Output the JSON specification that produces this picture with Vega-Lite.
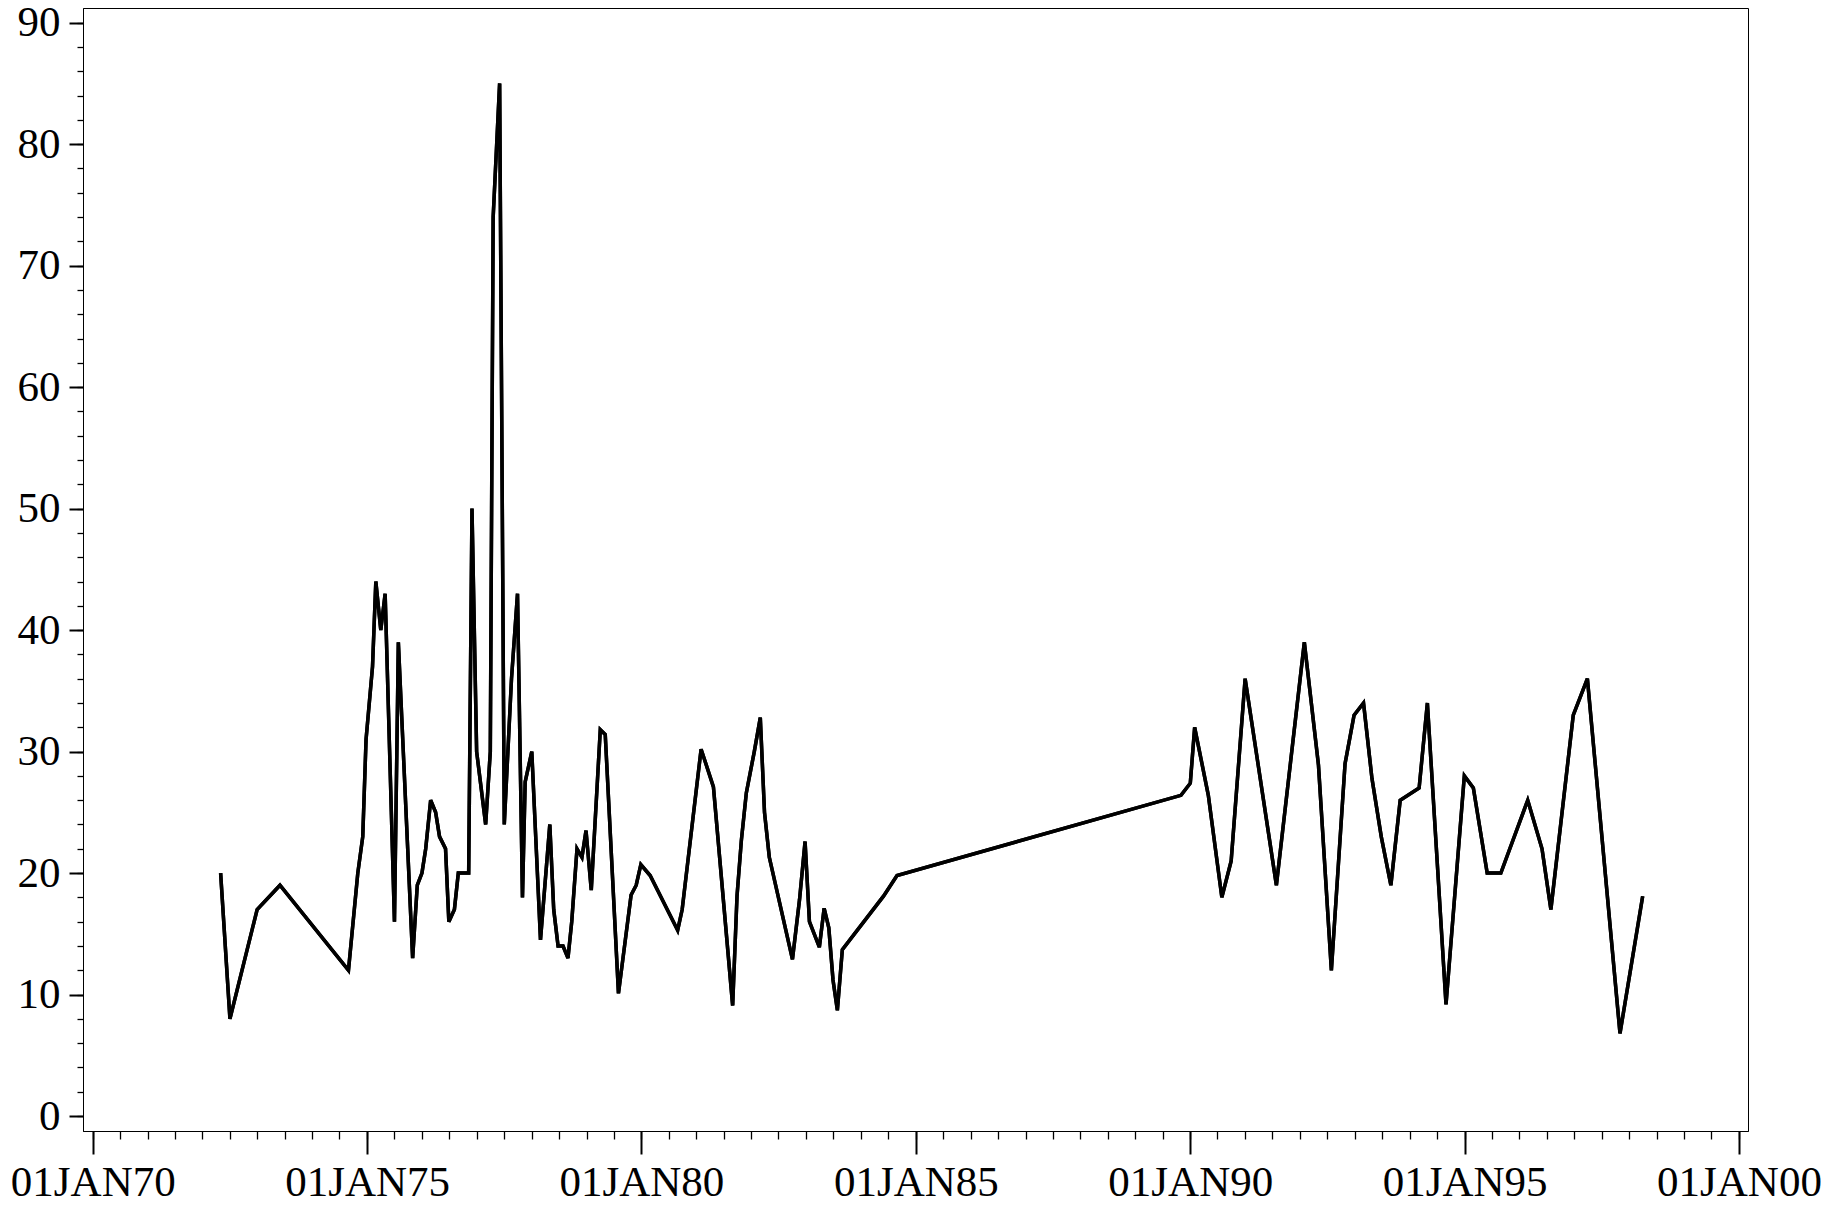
{
  "$schema": "https://vega.github.io/schema/vega-lite/v6.json",
  "width": 1665,
  "height": 1123,
  "autosize": {"type": "none"},
  "padding": {"left": 83, "top": 8, "right": 95, "bottom": 74},
  "background": "white",
  "config": {
    "view": {"stroke": "#000", "strokeWidth": 1},
    "axis": {
      "labelFont": "Liberation Serif",
      "labelFontSize": 43,
      "labelColor": "#000",
      "tickColor": "#000",
      "domainColor": "#000",
      "domainWidth": 1,
      "grid": false,
      "labelFlush": false,
      "labelOverlap": false
    }
  },
  "data": {
    "values": [
      {"date": "1972-05-01T00:00:00", "value": 20},
      {"date": "1972-07-02T00:00:00", "value": 8},
      {"date": "1972-12-30T00:00:00", "value": 17},
      {"date": "1973-05-31T00:00:00", "value": 19},
      {"date": "1974-08-30T00:00:00", "value": 12},
      {"date": "1974-10-31T00:00:00", "value": 20},
      {"date": "1974-12-03T00:00:00", "value": 23},
      {"date": "1974-12-25T00:00:00", "value": 31},
      {"date": "1975-02-06T00:00:00", "value": 37},
      {"date": "1975-02-28T00:00:00", "value": 44},
      {"date": "1975-04-02T00:00:00", "value": 40},
      {"date": "1975-05-01T00:00:00", "value": 43},
      {"date": "1975-07-02T00:00:00", "value": 16},
      {"date": "1975-07-28T00:00:00", "value": 39},
      {"date": "1975-10-31T00:00:00", "value": 13},
      {"date": "1975-12-01T00:00:00", "value": 19},
      {"date": "1976-01-01T00:00:00", "value": 20},
      {"date": "1976-01-26T00:00:00", "value": 22},
      {"date": "1976-02-28T00:00:00", "value": 26},
      {"date": "1976-04-01T00:00:00", "value": 25},
      {"date": "1976-04-27T00:00:00", "value": 23},
      {"date": "1976-06-06T00:00:00", "value": 22},
      {"date": "1976-06-28T00:00:00", "value": 16},
      {"date": "1976-08-04T00:00:00", "value": 17},
      {"date": "1976-08-30T00:00:00", "value": 20},
      {"date": "1976-11-07T00:00:00", "value": 20},
      {"date": "1976-11-29T00:00:00", "value": 50},
      {"date": "1976-12-30T00:00:00", "value": 30},
      {"date": "1977-02-28T00:00:00", "value": 24},
      {"date": "1977-03-31T00:00:00", "value": 30},
      {"date": "1977-04-19T00:00:00", "value": 74},
      {"date": "1977-06-01T00:00:00", "value": 85},
      {"date": "1977-07-02T00:00:00", "value": 24},
      {"date": "1977-08-19T00:00:00", "value": 36},
      {"date": "1977-09-28T00:00:00", "value": 43},
      {"date": "1977-10-31T00:00:00", "value": 18},
      {"date": "1977-11-18T00:00:00", "value": 27.5},
      {"date": "1978-01-01T00:00:00", "value": 30},
      {"date": "1978-02-28T00:00:00", "value": 14.5},
      {"date": "1978-05-01T00:00:00", "value": 24},
      {"date": "1978-05-27T00:00:00", "value": 17},
      {"date": "1978-06-25T00:00:00", "value": 14},
      {"date": "1978-07-28T00:00:00", "value": 14},
      {"date": "1978-08-30T00:00:00", "value": 13},
      {"date": "1978-09-24T00:00:00", "value": 16},
      {"date": "1978-10-29T00:00:00", "value": 22},
      {"date": "1978-12-01T00:00:00", "value": 21.3},
      {"date": "1978-12-28T00:00:00", "value": 23.5},
      {"date": "1979-02-01T00:00:00", "value": 18.6},
      {"date": "1979-04-02T00:00:00", "value": 31.8},
      {"date": "1979-05-05T00:00:00", "value": 31.4},
      {"date": "1979-08-01T00:00:00", "value": 10.1},
      {"date": "1979-10-24T00:00:00", "value": 18.2},
      {"date": "1979-11-27T00:00:00", "value": 19},
      {"date": "1979-12-28T00:00:00", "value": 20.7},
      {"date": "1980-02-28T00:00:00", "value": 19.8},
      {"date": "1980-08-29T00:00:00", "value": 15.3},
      {"date": "1980-09-28T00:00:00", "value": 17},
      {"date": "1981-02-01T00:00:00", "value": 30.2},
      {"date": "1981-04-24T00:00:00", "value": 27.1},
      {"date": "1981-08-30T00:00:00", "value": 9.1},
      {"date": "1981-09-28T00:00:00", "value": 18.1},
      {"date": "1981-10-27T00:00:00", "value": 22.7},
      {"date": "1981-11-29T00:00:00", "value": 26.6},
      {"date": "1982-01-21T00:00:00", "value": 30},
      {"date": "1982-03-02T00:00:00", "value": 32.8},
      {"date": "1982-03-30T00:00:00", "value": 25},
      {"date": "1982-05-01T00:00:00", "value": 21.3},
      {"date": "1982-10-02T00:00:00", "value": 12.9},
      {"date": "1982-11-18T00:00:00", "value": 17.8},
      {"date": "1982-12-25T00:00:00", "value": 22.6},
      {"date": "1983-01-23T00:00:00", "value": 16},
      {"date": "1983-03-30T00:00:00", "value": 13.9},
      {"date": "1983-05-01T00:00:00", "value": 17.1},
      {"date": "1983-06-01T00:00:00", "value": 15.5},
      {"date": "1983-06-29T00:00:00", "value": 11.2},
      {"date": "1983-07-28T00:00:00", "value": 8.7},
      {"date": "1983-08-30T00:00:00", "value": 13.7},
      {"date": "1984-05-30T00:00:00", "value": 18.1},
      {"date": "1984-08-28T00:00:00", "value": 19.8},
      {"date": "1989-10-31T00:00:00", "value": 26.4},
      {"date": "1990-01-01T00:00:00", "value": 27.4},
      {"date": "1990-01-30T00:00:00", "value": 32},
      {"date": "1990-05-01T00:00:00", "value": 26.4},
      {"date": "1990-07-30T00:00:00", "value": 18},
      {"date": "1990-09-30T00:00:00", "value": 21},
      {"date": "1991-01-01T00:00:00", "value": 36},
      {"date": "1991-07-28T00:00:00", "value": 19},
      {"date": "1992-01-30T00:00:00", "value": 39},
      {"date": "1992-05-03T00:00:00", "value": 28.9},
      {"date": "1992-07-28T00:00:00", "value": 12},
      {"date": "1992-10-27T00:00:00", "value": 29},
      {"date": "1992-12-26T00:00:00", "value": 33},
      {"date": "1993-02-27T00:00:00", "value": 34},
      {"date": "1993-04-24T00:00:00", "value": 27.8},
      {"date": "1993-06-25T00:00:00", "value": 23},
      {"date": "1993-08-28T00:00:00", "value": 19},
      {"date": "1993-10-29T00:00:00", "value": 26},
      {"date": "1994-03-04T00:00:00", "value": 27},
      {"date": "1994-04-28T00:00:00", "value": 34},
      {"date": "1994-08-30T00:00:00", "value": 9.2},
      {"date": "1994-12-30T00:00:00", "value": 28},
      {"date": "1995-02-28T00:00:00", "value": 27},
      {"date": "1995-05-31T00:00:00", "value": 20},
      {"date": "1995-08-30T00:00:00", "value": 20},
      {"date": "1996-02-25T00:00:00", "value": 26},
      {"date": "1996-05-30T00:00:00", "value": 22},
      {"date": "1996-07-28T00:00:00", "value": 17},
      {"date": "1996-12-24T00:00:00", "value": 33},
      {"date": "1997-03-28T00:00:00", "value": 36},
      {"date": "1997-10-31T00:00:00", "value": 6.8},
      {"date": "1998-03-31T00:00:00", "value": 18.1}
    ]
  },
  "layer": [
    {
      "mark": {"type": "line", "color": "#000", "strokeWidth": 3.5},
      "encoding": {
        "x": {
          "field": "date",
          "type": "temporal",
          "scale": {"domain": [{"year": 1969, "month": 10, "date": 28}, {"year": 2000, "month": 3, "date": 1}]},
          "axis": {
            "orient": "bottom",
            "title": null,
            "tickCount": {"interval": "year", "step": 5},
            "tickSize": 23,
            "tickWidth": 2,
            "labelPadding": 7,
            "labelExpr": "'01JAN' + timeFormat(datum.value, '%y')"
          }
        },
        "y": {
          "field": "value",
          "type": "quantitative",
          "scale": {"domain": [-1.23, 91.21], "nice": false, "zero": false},
          "axis": {
            "orient": "left",
            "title": null,
            "values": [0, 10, 20, 30, 40, 50, 60, 70, 80, 90],
            "tickSize": 14,
            "tickWidth": 2,
            "labelPadding": 9
          }
        }
      }
    },
    {
      "mark": {"type": "line", "color": "#000", "strokeWidth": 3.5},
      "encoding": {
        "x": {
          "field": "date",
          "type": "temporal",
          "axis": {
            "orient": "bottom",
            "title": null,
            "tickCount": {"interval": "month", "step": 6},
            "tickSize": 8,
            "tickWidth": 1.3,
            "labels": false,
            "domain": false
          }
        },
        "y": {
          "field": "value",
          "type": "quantitative",
          "axis": {
            "orient": "left",
            "title": null,
            "values": [0, 2, 4, 6, 8, 10, 12, 14, 16, 18, 20, 22, 24, 26, 28, 30, 32, 34, 36, 38, 40, 42, 44, 46, 48, 50, 52, 54, 56, 58, 60, 62, 64, 66, 68, 70, 72, 74, 76, 78, 80, 82, 84, 86, 88, 90],
            "tickSize": 6,
            "tickWidth": 1.3,
            "labels": false,
            "domain": false
          }
        }
      }
    }
  ],
  "resolve": {"axis": {"x": "independent", "y": "independent"}}
}
